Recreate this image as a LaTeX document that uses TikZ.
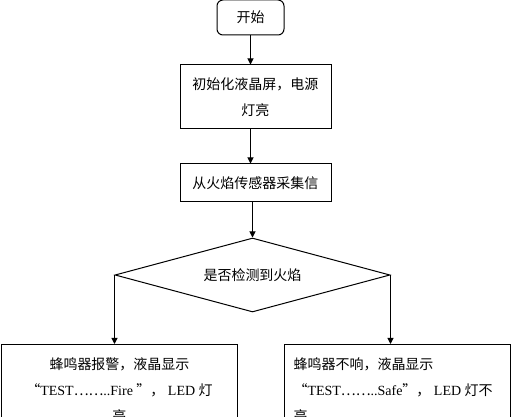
\documentclass[tikz,border=0pt]{standalone}
\usepackage{fontspec}
\setmainfont{Liberation Serif}
\newfontfamily\cjk{Noto Sans CJK SC}
\usetikzlibrary{positioning, arrows.meta, shapes.geometric}

\begin{document}
\begin{tikzpicture}[
        term/.style = {draw, black, line width=0.75pt, minimum width=50.25pt, minimum height=26.25pt, rounded corners=4.5pt, inner sep=0pt},%
        proc/.style = {draw, black, line width=0.75pt, text width=113.25pt, align=center, inner sep=0pt},%
        dec/.style = {diamond, draw, black, line width=0.75pt, aspect=3.7, minimum width=206.25pt, minimum height=55.5pt, inner sep=0pt},%
        result/.style = {draw, black, line width=0.75pt, inner sep=0pt},%
        arrow/.style = {-{Triangle[length=4.5pt, width=4.5pt]}, line width=0.75pt},%
        font=\cjk\fontsize{10.5pt}{19.5pt}\selectfont
    ]%
        \useasboundingbox (0,0) rectangle (384pt,-312.75pt);
        \node[term] (start) at (187.875pt,-13.125pt) {开始};
        \node[proc, minimum height=48pt, below=21.75pt of start, xshift=3.75pt] (init) {初始化液晶屏，电源\\灯亮};
        \node[proc, minimum height=28.5pt, below=25.5pt of init] (sample) {从火焰传感器采集信};
        \node[dec, below=26.25pt of sample, xshift=-2.25pt] (check) {是否检测到火焰};
        \node[result, below=51.75pt of check.west, xshift=3.75pt] (fire) {\parbox[c][55.25pt][t]{177pt}{\vspace*{10pt}\centering
            蜂鸣器报警，液晶显示\\
            “{\rmfamily TEST}……{\rmfamily ..Fire }”，{\rmfamily\ LED }灯\\
            亮}};
        \node[result, below=51.75pt of check.east, xshift=5.25pt] (safe) {\parbox[c][55.25pt][t]{169.5pt}{\vspace*{10pt}\raggedright\leftskip=6.75pt
            蜂鸣器不响，液晶显示\\
            “{\rmfamily TEST}……{\rmfamily ..Safe}”，{\rmfamily\ LED }灯不\\
            亮}};
        \draw[arrow] (start.south) -- (start.south |- init.north);
        \draw[arrow] (init.south -| start.south) -- (sample.north -| start.south);
        \draw[arrow] (sample.south -| check.north) -- (check.north);
        \draw[arrow] (check.west) -- (check.west |- fire.north);
        \draw[arrow] (check.east) -- (check.east |- safe.north);
    \end{tikzpicture}
\end{document}
